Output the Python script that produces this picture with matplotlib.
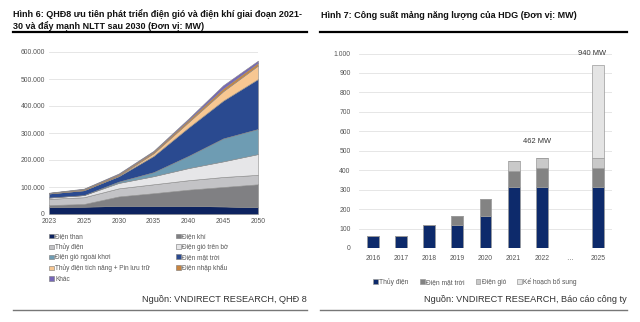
import matplotlib.pyplot as plt
from matplotlib.patches import Patch
from matplotlib.lines import Line2D
from matplotlib.ticker import FuncFormatter

plt.rcParams['font.family'] = ['Liberation Sans', 'DejaVu Sans']

# --- Hình 6: dữ liệu (MW) ---
nam = ['2023', '2025', '2030', '2035', '2040', '2045', '2050']
dien_than = [26000, 27000, 30000, 30000, 30000, 28000, 25000]
dien_khi = [7000, 10000, 35000, 47000, 60000, 72000, 85000]
thuy_dien = [23000, 25000, 30000, 33000, 35000, 37000, 35000]
gio_tren_bo = [5000, 8000, 20000, 30000, 45000, 58000, 77000]
gio_ngoai_khoi = [0, 0, 5000, 15000, 45000, 85000, 93000]
mat_troi = [15000, 18000, 20000, 60000, 105000, 140000, 185000]
tich_nang = [0, 0, 2000, 10000, 20000, 35000, 50000]
nhap_khau = [2000, 4000, 5000, 6000, 8000, 10000, 10000]
khac = [1000, 2000, 3000, 3000, 5000, 12000, 8000]

ten_lop = ['Điện than', 'Điện khí', 'Thủy điện', 'Điện gió trên bờ',
           'Điện gió ngoài khơi', 'Điện mặt trời',
           'Thủy điện tích năng + Pin lưu trữ', 'Điện nhập khẩu', 'Khác']
mau_lop = ['#0d2360', '#808083', '#c3c3c6', '#e6e6e8', '#6e9cb3',
           '#2a4a90', '#f7c792', '#c8843f', '#7566b8']

# --- Hình 7: dữ liệu (MW) ---
nam_hdg = ['2016', '2017', '2018', '2019', '2020', '2021', '2022', '…', '2025']
hdg_thuy = [60, 60, 120, 118, 165, 315, 315, 0, 315]
hdg_mat_troi = [0, 0, 0, 45, 85, 80, 98, 0, 98]
hdg_gio = [0, 0, 0, 0, 0, 50, 49, 0, 49]
hdg_bo_sung = [0, 0, 0, 0, 0, 0, 0, 0, 478]
ten_hdg = ['Thủy điện', 'Điện mặt trời', 'Điện gió', 'Kế hoạch bổ sung']
mau_hdg = ['#0d2a6b', '#838383', '#c9c9c9', '#e4e4e4']

W, H = 640, 322
fig = plt.figure(figsize=(6.4, 3.22), dpi=100)


def fx(px):
    return px / W


def fy(py):
    return 1 - py / H


def rule(x0, x1, y, lw, color):
    fig.add_artist(Line2D([fx(x0), fx(x1)], [fy(y), fy(y)], lw=lw, color=color,
                          transform=fig.transFigure))


dot_fmt = FuncFormatter(lambda v, p: f'{int(v):,}'.replace(',', '.'))
tick_color = '#555555'

# ---------- Hình 6 ----------
fig.text(fx(13), fy(20), 'Hình 6: QHĐ8 ưu tiên phát triển điện gió và điện khí giai đoạn 2021-\n'
         '30 và đẩy mạnh NLTT sau 2030 (Đơn vị: MW)', fontsize=6.5, fontweight='bold',
         va='center', ha='left', linespacing=1.15, color='#111111')
rule(13, 307, 31.7, 1.6, 'black')

ax1 = fig.add_axes([fx(49), fy(214), fx(258 - 49), fy(52) - fy(214)])
xs = list(range(len(nam)))
series = [dien_than, dien_khi, thuy_dien, gio_tren_bo, gio_ngoai_khoi,
          mat_troi, tich_nang, nhap_khau, khac]
ax1.stackplot(xs, *series, colors=mau_lop, edgecolor='#8a8a8a', linewidth=0.4)
ax1.set_xlim(0, len(nam) - 1)
ax1.set_ylim(0, 600000)
ax1.set_yticks(range(0, 600001, 100000))
ax1.yaxis.set_major_formatter(dot_fmt)
ax1.set_xticks(xs)
ax1.set_xticklabels(nam)
ax1.grid(axis='y', color='#e2e2e2', lw=0.6)
ax1.set_axisbelow(True)
for s in ax1.spines.values():
    s.set_visible(False)
ax1.tick_params(length=0, labelsize=4.9, labelcolor=tick_color, pad=3)

handles = [Patch(facecolor=c, edgecolor='#777777', linewidth=0.4) for c in mau_lop]
order = [0, 2, 4, 6, 8, 1, 3, 5, 7]
ax1.legend([handles[i] for i in order], [ten_lop[i] for i in order], ncol=2,
           loc='upper left', bbox_to_anchor=(fx(46), fy(230)), bbox_transform=fig.transFigure,
           frameon=False, fontsize=4.7, labelcolor=tick_color, handlelength=0.7,
           handleheight=0.7, handletextpad=0.2, columnspacing=4.0, labelspacing=0.5,
           borderpad=0)

fig.text(fx(307), fy(300), 'Nguồn: VNDIRECT RESEARCH, QHĐ 8', fontsize=6.6,
         ha='right', va='center', color='#333333')
rule(13, 307, 310, 1.0, '#777777')

# ---------- Hình 7 ----------
fig.text(fx(321), fy(15), 'Hình 7: Công suất mảng năng lượng của HDG (Đơn vị: MW)',
         fontsize=6.5, fontweight='bold', va='center', ha='left', color='#111111')
rule(320, 627, 32, 1.6, 'black')

ax2 = fig.add_axes([fx(359), fy(248), fx(612 - 359), fy(53.5) - fy(248)])
xb = list(range(len(nam_hdg)))
bottom = [0] * len(nam_hdg)
for vals, c, lbl in zip([hdg_thuy, hdg_mat_troi, hdg_gio, hdg_bo_sung], mau_hdg, ten_hdg):
    ax2.bar(xb, vals, 0.42, bottom=bottom, color=c, edgecolor='#9a9a9a', linewidth=0.5,
            label=lbl)
    bottom = [b + v for b, v in zip(bottom, vals)]
ax2.set_xlim(-0.5, len(nam_hdg) - 0.5)
ax2.set_ylim(0, 1000)
ax2.set_yticks(range(0, 1001, 100))
ax2.yaxis.set_major_formatter(dot_fmt)
ax2.set_xticks(xb)
ax2.set_xticklabels(nam_hdg)
ax2.grid(axis='y', color='#e2e2e2', lw=0.6)
ax2.set_axisbelow(True)
for s in ax2.spines.values():
    s.set_visible(False)
ax2.tick_params(length=0, labelsize=4.9, labelcolor=tick_color, pad=5)
ax2.tick_params(axis='y', pad=6)

ax2.text(6 - 0.15, 550, '462 MW', fontsize=5.4, ha='center', va='center', color='#333333')
ax2.text(8 - 0.2, 1000, '940 MW', fontsize=5.4, ha='center', va='center', color='#333333')

ax2.legend(loc='center', bbox_to_anchor=(fx(475), fy(282)), bbox_transform=fig.transFigure,
           ncol=4, frameon=False, fontsize=4.8, labelcolor=tick_color, handlelength=0.7,
           handleheight=0.7, handletextpad=0.2, columnspacing=1.7, borderpad=0)

fig.text(fx(627), fy(300), 'Nguồn: VNDIRECT RESEARCH, Báo cáo công ty', fontsize=6.6,
         ha='right', va='center', color='#333333')
rule(320, 627, 310, 1.0, '#777777')

fig.savefig('out.png', dpi=100)
